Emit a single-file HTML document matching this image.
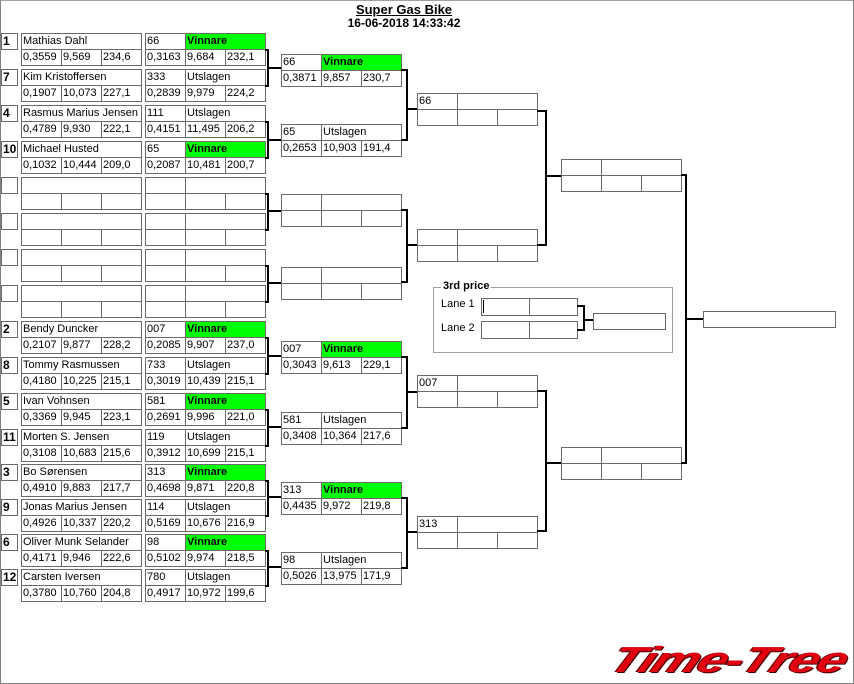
<!DOCTYPE html>
<html><head><meta charset="utf-8"><style>
*{margin:0;padding:0;box-sizing:border-box}
body{width:854px;height:684px;position:relative;background:#fff;font-family:"Liberation Sans",sans-serif;font-size:11px;color:#000;overflow:hidden}
#frame{position:absolute;left:0;top:0;width:854px;height:684px;border:1px solid #808080;border-top-color:#a0a0a0}
.c{position:absolute;height:17px;border:1px solid #6a6a6a;line-height:14px;padding-left:1px;white-space:nowrap;overflow:hidden;background:#fff}
.g{background:#00ff00;font-weight:bold}
.s{left:1px;width:17px;font-weight:bold;font-size:12px;padding-left:1px}
.n{left:21px;width:121px}.a1{left:21px;width:41px}.a2{left:61px;width:41px}.a3{left:101px;width:41px}
.p1{left:145px;width:41px}.p2{left:185px;width:81px}.p3{left:185px;width:41px}.p4{left:225px;width:41px}
.q1{left:281px;width:41px}.q2{left:321px;width:81px}.q3{left:321px;width:41px}.q4{left:361px;width:41px}
.r1{left:417px;width:41px}.r2{left:457px;width:81px}.r3{left:457px;width:41px}.r4{left:497px;width:41px}
.t1{left:561px;width:41px}.t2{left:601px;width:81px}.t3{left:601px;width:41px}.t4{left:641px;width:41px}
.k{position:absolute;border:2px solid #000;border-left:none}
.h{position:absolute;height:2px;background:#000}
.tx{position:absolute;white-space:nowrap}
</style></head><body>
<div id="frame"></div>
<div class="tx" style="left:0;width:808px;text-align:center;top:2px;font-weight:bold;font-size:13px;text-decoration:underline">Super Gas Bike</div>
<div class="tx" style="left:0;width:808px;text-align:center;top:16px;font-weight:bold;font-size:12px">16-06-2018 14:33:42</div>

<div class="c s" style="top:33px">1</div><div class="c n" style="top:33px">Mathias Dahl</div>
<div class="c a1" style="top:49px">0,3559</div><div class="c a2" style="top:49px">9,569</div><div class="c a3" style="top:49px">234,6</div>
<div class="c p1" style="top:33px">66</div><div class="c p2 g" style="top:33px">Vinnare</div>
<div class="c p1" style="top:49px">0,3163</div><div class="c p3" style="top:49px">9,684</div><div class="c p4" style="top:49px">232,1</div>

<div class="c s" style="top:69px">7</div><div class="c n" style="top:69px">Kim Kristoffersen</div>
<div class="c a1" style="top:85px">0,1907</div><div class="c a2" style="top:85px">10,073</div><div class="c a3" style="top:85px">227,1</div>
<div class="c p1" style="top:69px">333</div><div class="c p2" style="top:69px">Utslagen</div>
<div class="c p1" style="top:85px">0,2839</div><div class="c p3" style="top:85px">9,979</div><div class="c p4" style="top:85px">224,2</div>

<div class="c s" style="top:105px">4</div><div class="c n" style="top:105px">Rasmus Marius Jensen</div>
<div class="c a1" style="top:121px">0,4789</div><div class="c a2" style="top:121px">9,930</div><div class="c a3" style="top:121px">222,1</div>
<div class="c p1" style="top:105px">111</div><div class="c p2" style="top:105px">Utslagen</div>
<div class="c p1" style="top:121px">0,4151</div><div class="c p3" style="top:121px">11,495</div><div class="c p4" style="top:121px">206,2</div>

<div class="c s" style="top:141px">10</div><div class="c n" style="top:141px">Michael Husted</div>
<div class="c a1" style="top:157px">0,1032</div><div class="c a2" style="top:157px">10,444</div><div class="c a3" style="top:157px">209,0</div>
<div class="c p1" style="top:141px">65</div><div class="c p2 g" style="top:141px">Vinnare</div>
<div class="c p1" style="top:157px">0,2087</div><div class="c p3" style="top:157px">10,481</div><div class="c p4" style="top:157px">200,7</div>

<div class="c s" style="top:177px"></div><div class="c n" style="top:177px"></div>
<div class="c a1" style="top:193px"></div><div class="c a2" style="top:193px"></div><div class="c a3" style="top:193px"></div>
<div class="c p1" style="top:177px"></div><div class="c p2" style="top:177px"></div>
<div class="c p1" style="top:193px"></div><div class="c p3" style="top:193px"></div><div class="c p4" style="top:193px"></div>

<div class="c s" style="top:213px"></div><div class="c n" style="top:213px"></div>
<div class="c a1" style="top:229px"></div><div class="c a2" style="top:229px"></div><div class="c a3" style="top:229px"></div>
<div class="c p1" style="top:213px"></div><div class="c p2" style="top:213px"></div>
<div class="c p1" style="top:229px"></div><div class="c p3" style="top:229px"></div><div class="c p4" style="top:229px"></div>

<div class="c s" style="top:249px"></div><div class="c n" style="top:249px"></div>
<div class="c a1" style="top:265px"></div><div class="c a2" style="top:265px"></div><div class="c a3" style="top:265px"></div>
<div class="c p1" style="top:249px"></div><div class="c p2" style="top:249px"></div>
<div class="c p1" style="top:265px"></div><div class="c p3" style="top:265px"></div><div class="c p4" style="top:265px"></div>

<div class="c s" style="top:285px"></div><div class="c n" style="top:285px"></div>
<div class="c a1" style="top:301px"></div><div class="c a2" style="top:301px"></div><div class="c a3" style="top:301px"></div>
<div class="c p1" style="top:285px"></div><div class="c p2" style="top:285px"></div>
<div class="c p1" style="top:301px"></div><div class="c p3" style="top:301px"></div><div class="c p4" style="top:301px"></div>

<div class="c s" style="top:321px">2</div><div class="c n" style="top:321px">Bendy Duncker</div>
<div class="c a1" style="top:337px">0,2107</div><div class="c a2" style="top:337px">9,877</div><div class="c a3" style="top:337px">228,2</div>
<div class="c p1" style="top:321px">007</div><div class="c p2 g" style="top:321px">Vinnare</div>
<div class="c p1" style="top:337px">0,2085</div><div class="c p3" style="top:337px">9,907</div><div class="c p4" style="top:337px">237,0</div>

<div class="c s" style="top:357px">8</div><div class="c n" style="top:357px">Tommy Rasmussen</div>
<div class="c a1" style="top:373px">0,4180</div><div class="c a2" style="top:373px">10,225</div><div class="c a3" style="top:373px">215,1</div>
<div class="c p1" style="top:357px">733</div><div class="c p2" style="top:357px">Utslagen</div>
<div class="c p1" style="top:373px">0,3019</div><div class="c p3" style="top:373px">10,439</div><div class="c p4" style="top:373px">215,1</div>

<div class="c s" style="top:393px">5</div><div class="c n" style="top:393px">Ivan Vohnsen</div>
<div class="c a1" style="top:409px">0,3369</div><div class="c a2" style="top:409px">9,945</div><div class="c a3" style="top:409px">223,1</div>
<div class="c p1" style="top:393px">581</div><div class="c p2 g" style="top:393px">Vinnare</div>
<div class="c p1" style="top:409px">0,2691</div><div class="c p3" style="top:409px">9,996</div><div class="c p4" style="top:409px">221,0</div>

<div class="c s" style="top:429px">11</div><div class="c n" style="top:429px">Morten S. Jensen</div>
<div class="c a1" style="top:445px">0,3108</div><div class="c a2" style="top:445px">10,683</div><div class="c a3" style="top:445px">215,6</div>
<div class="c p1" style="top:429px">119</div><div class="c p2" style="top:429px">Utslagen</div>
<div class="c p1" style="top:445px">0,3912</div><div class="c p3" style="top:445px">10,699</div><div class="c p4" style="top:445px">215,1</div>

<div class="c s" style="top:464px">3</div><div class="c n" style="top:464px">Bo Sørensen</div>
<div class="c a1" style="top:480px">0,4910</div><div class="c a2" style="top:480px">9,883</div><div class="c a3" style="top:480px">217,7</div>
<div class="c p1" style="top:464px">313</div><div class="c p2 g" style="top:464px">Vinnare</div>
<div class="c p1" style="top:480px">0,4698</div><div class="c p3" style="top:480px">9,871</div><div class="c p4" style="top:480px">220,8</div>

<div class="c s" style="top:499px">9</div><div class="c n" style="top:499px">Jonas Marius Jensen</div>
<div class="c a1" style="top:515px">0,4926</div><div class="c a2" style="top:515px">10,337</div><div class="c a3" style="top:515px">220,2</div>
<div class="c p1" style="top:499px">114</div><div class="c p2" style="top:499px">Utslagen</div>
<div class="c p1" style="top:515px">0,5169</div><div class="c p3" style="top:515px">10,676</div><div class="c p4" style="top:515px">216,9</div>

<div class="c s" style="top:534px">6</div><div class="c n" style="top:534px">Oliver Munk Selander</div>
<div class="c a1" style="top:550px">0,4171</div><div class="c a2" style="top:550px">9,946</div><div class="c a3" style="top:550px">222,6</div>
<div class="c p1" style="top:534px">98</div><div class="c p2 g" style="top:534px">Vinnare</div>
<div class="c p1" style="top:550px">0,5102</div><div class="c p3" style="top:550px">9,974</div><div class="c p4" style="top:550px">218,5</div>

<div class="c s" style="top:569px">12</div><div class="c n" style="top:569px">Carsten Iversen</div>
<div class="c a1" style="top:585px">0,3780</div><div class="c a2" style="top:585px">10,760</div><div class="c a3" style="top:585px">204,8</div>
<div class="c p1" style="top:569px">780</div><div class="c p2" style="top:569px">Utslagen</div>
<div class="c p1" style="top:585px">0,4917</div><div class="c p3" style="top:585px">10,972</div><div class="c p4" style="top:585px">199,6</div>

<div class="k" style="left:265px;width:4px;top:49px;height:38px"></div><div class="h" style="left:268px;width:13px;top:67px"></div>
<div class="k" style="left:265px;width:4px;top:121px;height:38px"></div><div class="h" style="left:268px;width:13px;top:139px"></div>
<div class="k" style="left:265px;width:4px;top:193px;height:38px"></div><div class="h" style="left:268px;width:13px;top:210px"></div>
<div class="k" style="left:265px;width:4px;top:265px;height:38px"></div><div class="h" style="left:268px;width:13px;top:282px"></div>
<div class="k" style="left:265px;width:4px;top:337px;height:38px"></div><div class="h" style="left:268px;width:13px;top:355px"></div>
<div class="k" style="left:265px;width:4px;top:409px;height:38px"></div><div class="h" style="left:268px;width:13px;top:426px"></div>
<div class="k" style="left:265px;width:4px;top:480px;height:37px"></div><div class="h" style="left:268px;width:13px;top:496px"></div>
<div class="k" style="left:265px;width:4px;top:550px;height:37px"></div><div class="h" style="left:268px;width:13px;top:566px"></div>

<div class="c q1" style="top:54px">66</div><div class="c q2 g" style="top:54px">Vinnare</div>
<div class="c q1" style="top:70px">0,3871</div><div class="c q3" style="top:70px">9,857</div><div class="c q4" style="top:70px">230,7</div>
<div class="c q1" style="top:124px">65</div><div class="c q2" style="top:124px">Utslagen</div>
<div class="c q1" style="top:140px">0,2653</div><div class="c q3" style="top:140px">10,903</div><div class="c q4" style="top:140px">191,4</div>
<div class="c q1" style="top:194px"></div><div class="c q2" style="top:194px"></div>
<div class="c q1" style="top:210px"></div><div class="c q3" style="top:210px"></div><div class="c q4" style="top:210px"></div>
<div class="c q1" style="top:267px"></div><div class="c q2" style="top:267px"></div>
<div class="c q1" style="top:283px"></div><div class="c q3" style="top:283px"></div><div class="c q4" style="top:283px"></div>
<div class="c q1" style="top:341px">007</div><div class="c q2 g" style="top:341px">Vinnare</div>
<div class="c q1" style="top:357px">0,3043</div><div class="c q3" style="top:357px">9,613</div><div class="c q4" style="top:357px">229,1</div>
<div class="c q1" style="top:412px">581</div><div class="c q2" style="top:412px">Utslagen</div>
<div class="c q1" style="top:428px">0,3408</div><div class="c q3" style="top:428px">10,364</div><div class="c q4" style="top:428px">217,6</div>
<div class="c q1" style="top:482px">313</div><div class="c q2 g" style="top:482px">Vinnare</div>
<div class="c q1" style="top:498px">0,4435</div><div class="c q3" style="top:498px">9,972</div><div class="c q4" style="top:498px">219,8</div>
<div class="c q1" style="top:552px">98</div><div class="c q2" style="top:552px">Utslagen</div>
<div class="c q1" style="top:568px">0,5026</div><div class="c q3" style="top:568px">13,975</div><div class="c q4" style="top:568px">171,9</div>

<div class="k" style="left:401px;width:7px;top:69px;height:72px"></div><div class="h" style="left:406px;width:11px;top:108px"></div>
<div class="k" style="left:401px;width:7px;top:209px;height:74px"></div><div class="h" style="left:406px;width:11px;top:244px"></div>
<div class="k" style="left:401px;width:7px;top:356px;height:73px"></div><div class="h" style="left:406px;width:11px;top:391px"></div>
<div class="k" style="left:401px;width:7px;top:497px;height:72px"></div><div class="h" style="left:406px;width:11px;top:531px"></div>

<div class="c r1" style="top:93px">66</div><div class="c r2" style="top:93px"></div>
<div class="c r1" style="top:109px"></div><div class="c r3" style="top:109px"></div><div class="c r4" style="top:109px"></div>
<div class="c r1" style="top:229px"></div><div class="c r2" style="top:229px"></div>
<div class="c r1" style="top:245px"></div><div class="c r3" style="top:245px"></div><div class="c r4" style="top:245px"></div>
<div class="c r1" style="top:375px">007</div><div class="c r2" style="top:375px"></div>
<div class="c r1" style="top:391px"></div><div class="c r3" style="top:391px"></div><div class="c r4" style="top:391px"></div>
<div class="c r1" style="top:516px">313</div><div class="c r2" style="top:516px"></div>
<div class="c r1" style="top:532px"></div><div class="c r3" style="top:532px"></div><div class="c r4" style="top:532px"></div>

<div class="k" style="left:537px;width:10px;top:110px;height:136px"></div><div class="h" style="left:545px;width:16px;top:175px"></div>
<div class="k" style="left:537px;width:10px;top:390px;height:142px"></div><div class="h" style="left:545px;width:16px;top:462px"></div>

<div class="c t1" style="top:159px"></div><div class="c t2" style="top:159px"></div>
<div class="c t1" style="top:175px"></div><div class="c t3" style="top:175px"></div><div class="c t4" style="top:175px"></div>
<div class="c t1" style="top:447px"></div><div class="c t2" style="top:447px"></div>
<div class="c t1" style="top:463px"></div><div class="c t3" style="top:463px"></div><div class="c t4" style="top:463px"></div>

<div class="k" style="left:681px;width:6px;top:174px;height:290px"></div><div class="h" style="left:685px;width:18px;top:318px"></div>
<div class="c" style="left:703px;top:311px;width:133px"></div>

<div style="position:absolute;left:433px;top:287px;width:240px;height:66px;border:1px solid #a0a0a0"></div>
<div class="tx" style="left:441px;top:280px;padding:0 2px;background:#fff;font-weight:bold;font-size:11px">3rd price</div>
<div class="tx" style="left:441px;top:298px">Lane 1</div>
<div class="tx" style="left:441px;top:322px">Lane 2</div>
<div class="c" style="left:481px;top:298px;width:49px;height:18px"></div><div class="c" style="left:529px;top:298px;width:49px;height:18px"></div>
<div class="c" style="left:481px;top:321px;width:49px;height:18px"></div><div class="c" style="left:529px;top:321px;width:49px;height:18px"></div>
<div style="position:absolute;left:483px;top:300px;width:1px;height:13px;background:#000"></div>
<div class="k" style="left:577px;width:8px;top:305px;height:26px"></div><div class="h" style="left:584px;width:9px;top:319px"></div>
<div class="c" style="left:593px;top:313px;width:73px"></div>

<div class="tx" style="left:612px;top:640px;font-size:36px;font-weight:900;font-style:italic;color:#e00010;letter-spacing:-1px;transform-origin:0 50%;transform:scaleX(1.45) skewX(-18deg);text-shadow:1px 1px 0 #400,-1px 0 0 #600;line-height:40px">Time-Tree</div>
</body></html>
